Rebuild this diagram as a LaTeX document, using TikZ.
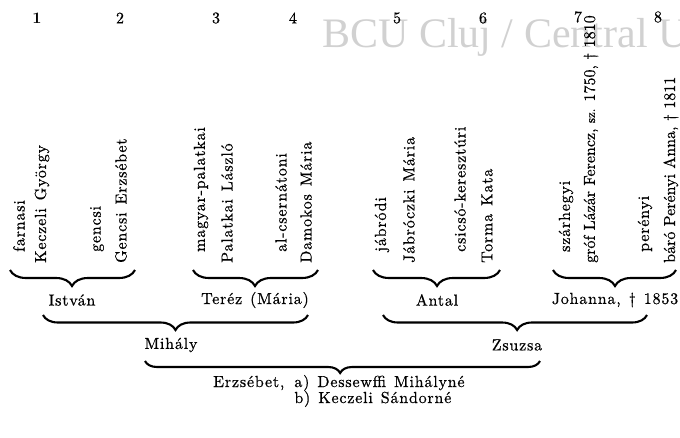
\documentclass[tikz,border=0pt]{standalone}
\usepackage{fontspec}
\setmainfont{lmroman10-regular.otf}[LetterSpace=5, WordSpace=1.3, FakeBold=0.6, BoldFont=lmroman10-bold.otf, BoldFeatures={FakeBold=0}]
\newfontfamily\tightfont{lmroman10-regular.otf}[LetterSpace=0, FakeBold=0.6]
\newfontfamily\wmfont{Liberation Serif}
\usetikzlibrary{decorations.pathreplacing}
\newcommand\txtsize{\fontsize{16}{13}\selectfont}
\newcommand\szsize{\fontsize{13}{13}\selectfont}
\begin{document}
\begin{tikzpicture}[x=1pt,y=-1pt,
  every node/.style={inner sep=0pt, font=\txtsize},
  vt/.style={rotate=90, anchor=west},
  tbrace/.style 2 args={decorate, decoration={brace, amplitude=#1, aspect=#2}, line width=2.1pt},
]
\useasboundingbox (0,0) rectangle (680,437);
\begin{scope}
\clip (0,0) rectangle (680,437);
\node[anchor=west, text=black!18, font=\wmfont\fontsize{42}{42}\selectfont] (wm) at (322,37) {BCU Cluj / Central U};
\end{scope}
% column numbers
\node (n1) at (37,18) {\bfseries 1};
\node (n2) at (120,18) {2};
\node (n3) at (216,18) {3};
\node (n4) at (293,18) {4};
\node (n5) at (397,18) {5};
\node (n6) at (483,18) {6};
\node (n7) at (578,17) {7};
\node (n8) at (658,17) {8};
% vertical names
\node[vt] (t1a) at (19,252) {farnasi};
\node[vt] (t1b) at (42,263) {Keczeli György};
\node[vt] (t2a) at (97,252) {gencsi};
\node[vt] (t2b) at (121,263) {Gencsi Erzsébet};
\node[vt] (t3a) at (201,252) {magyar-palatkai};
\node[vt] (t3b) at (227,263) {Palatkai László};
\node[vt] (t4a) at (281,252) {al-csernátoni};
\node[vt] (t4b) at (306,263) {Damokos Mária};
\node[vt] (t5a) at (382,252) {jábródi};
\node[vt] (t5b) at (409,263) {Jábróczki Mária};
\node[vt] (t6a) at (460,252) {csicsó-keresztúri};
\node[vt] (t6b) at (487,263) {Torma Kata};
\node[vt] (t7a) at (566,252) {szárhegyi};
\node[vt] (t7b) at (591,263) {\tightfont gróf Lázár Ferencz, {\szsize sz.} 1750, † 1810};
\node[vt] (t8a) at (645,252) {perényi};
\node[vt] (t8b) at (671,263) {\tightfont báró Perényi Anna, † 1811};
% second generation
\node (istvan) at (72,300) {István};
\node (terez) at (255,300) {Teréz (Mária)};
\node (antal) at (437,300) {Antal};
\node (johanna) at (615,300) {Johanna, † 1853};
% third generation
\node (mihaly) at (171,345) {Mihály};
\node (zsuzsa) at (517,345) {Zsuzsa};
% last
\node[anchor=west] (erzsebet) at (213,391) {\begin{tabular}{@{}l@{}l@{}}Erzsébet,\hspace{10pt} & a) Dessewffi Mihályné\\ & b) Keczeli Sándorné\end{tabular}};
% brace end points
\coordinate (b1r) at (135,270); \coordinate (b1l) at (10,270);
\coordinate (b2r) at (318,270); \coordinate (b2l) at (193,270);
\coordinate (b3r) at (500,270); \coordinate (b3l) at (373,270);
\coordinate (b4r) at (676,270); \coordinate (b4l) at (553,270);
\coordinate (b5r) at (308,315); \coordinate (b5l) at (43,315);
\coordinate (b6r) at (647,315); \coordinate (b6l) at (383,315);
\coordinate (b7r) at (540,361); \coordinate (b7l) at (145,361);
\draw[tbrace={16pt}{0.504}] (b1r) -- (b1l);
\draw[tbrace={16pt}{0.504}] (b2r) -- (b2l);
\draw[tbrace={16pt}{0.496}] (b3r) -- (b3l);
\draw[tbrace={16pt}{0.496}] (b4r) -- (b4l);
\draw[tbrace={15pt}{0.5}] (b5r) -- (b5l);
\draw[tbrace={15pt}{0.492}] (b6r) -- (b6l);
\draw[tbrace={12pt}{0.506}] (b7r) -- (b7l);
\end{tikzpicture}
\end{document}
